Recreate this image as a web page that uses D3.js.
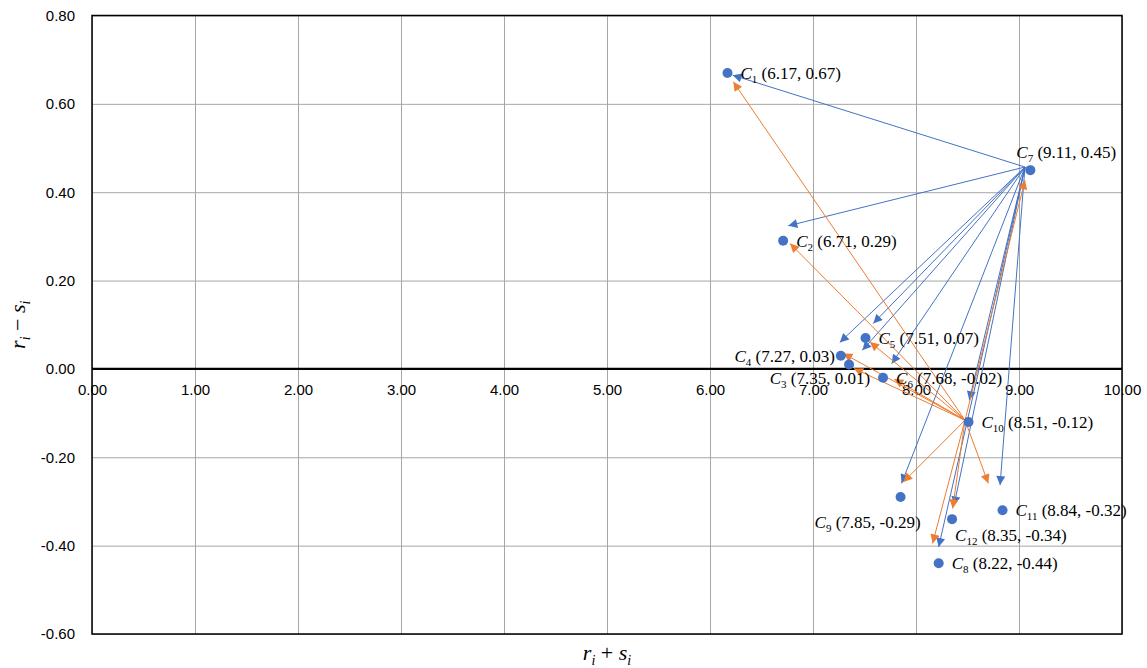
<!DOCTYPE html>
<html>
<head>
<meta charset="utf-8">
<script src="https://cdn.jsdelivr.net/npm/d3@7"></script>
<style>
  body { margin: 0; background: #fff; }
  svg { display: block; }
  .lbl { font-family: "Liberation Serif", "Times New Roman", serif; font-size: 17px; fill: #000; }
</style>
</head>
<body>
<svg id="chart"></svg>
<script>
// nodes: name index, r+s, r-s
const nodeIds = [1, 2, 3, 4, 5, 6, 7, 8, 9, 10, 11, 12];
const nodeX = [6.17, 6.71, 7.35, 7.27, 7.51, 7.68, 9.11, 8.22, 7.85, 8.51, 8.84, 8.35];
const nodeY = [0.67, 0.29, 0.01, 0.03, 0.07, -0.02, 0.45, -0.44, -0.29, -0.12, -0.32, -0.34];

// which side of the point each label sits on
const labelSide = ["right", "right", "belowleft", "left", "right", "right", "above", "right", "below", "right", "right", "belowright"];

// blue arrows leave C7, orange arrows leave C10 (tips, data units)
const blueStart = [9.058, 0.457];
const blueTipX = [6.22, 6.76, 7.26, 7.585, 7.479, 7.764, 8.517, 7.86, 8.816, 8.369, 8.22];
const blueTipY = [0.665, 0.324, 0.060, 0.103, 0.042, 0.012, -0.071, -0.259, -0.263, -0.309, -0.403];
const orangeStart = [8.476, -0.116];
const orangeTipX = [6.226, 6.777, 7.294, 7.553, 7.398, 7.789, 9.058, 7.877, 8.702, 8.356, 8.161];
const orangeTipY = [0.650, 0.284, 0.035, 0.061, 0.001, -0.023, 0.427, -0.256, -0.259, -0.316, -0.395];

const xTicks = [0, 1, 2, 3, 4, 5, 6, 7, 8, 9, 10];
const yTicks = [-0.6, -0.4, -0.2, 0, 0.2, 0.4, 0.6, 0.8];

const WIDTH = 1147;
const HEIGHT = 668;
const PLOT = { LEFT: 92, RIGHT: 1122, TOP: 15.5, BOTTOM: 634 };
const BLUE = "#4472C4";
const ORANGE = "#ED7D31";
const TICK_FONT = "'Liberation Sans', Arial, sans-serif";

// plain hyphen minus, like the original
const fmt = v => d3.format(".2f")(v).replace("\u2212", "-");

let svg = d3.select("#chart").attr("width", WIDTH).attr("height", HEIGHT);

let xScale = d3.scaleLinear().domain([0, 10]).range([PLOT.LEFT, PLOT.RIGHT]);
let yScale = d3.scaleLinear().domain([-0.6, 0.8]).range([PLOT.BOTTOM, PLOT.TOP]);

// arrow markers
let defs = svg.append("defs");
[["blueHead", BLUE], ["orangeHead", ORANGE]].forEach(function(m) {
  defs.append("marker")
    .attr("id", m[0])
    .attr("viewBox", "0 0 10 10")
    .attr("refX", 10).attr("refY", 5)
    .attr("markerWidth", 11).attr("markerHeight", 9)
    .attr("markerUnits", "userSpaceOnUse")
    .attr("orient", "auto")
    .append("path")
      .attr("d", "M0,0 L10,5 L0,10 Z")
      .attr("fill", m[1]);
});

// gridlines
svg.append("g")
  .attr("transform", `translate(0,${PLOT.BOTTOM})`)
  .call(d3.axisBottom(xScale).tickValues(xTicks).tickSize(-(PLOT.BOTTOM - PLOT.TOP)).tickFormat(""))
  .call(g => g.select(".domain").remove())
  .call(g => g.selectAll("line").attr("stroke", "#a6a6a6").attr("stroke-width", 1));

svg.append("g")
  .attr("transform", `translate(${PLOT.LEFT},0)`)
  .call(d3.axisLeft(yScale).tickValues(yTicks).tickSize(-(PLOT.RIGHT - PLOT.LEFT)).tickFormat(""))
  .call(g => g.select(".domain").remove())
  .call(g => g.selectAll("line").attr("stroke", "#a6a6a6").attr("stroke-width", 1));

// plot border
svg.append("rect")
  .attr("x", PLOT.LEFT).attr("y", PLOT.TOP)
  .attr("width", PLOT.RIGHT - PLOT.LEFT).attr("height", PLOT.BOTTOM - PLOT.TOP)
  .attr("fill", "none").attr("stroke", "#000").attr("stroke-width", 1.5);

// zero line
svg.append("line")
  .attr("x1", PLOT.LEFT).attr("x2", PLOT.RIGHT)
  .attr("y1", yScale(0)).attr("y2", yScale(0))
  .attr("stroke", "#000").attr("stroke-width", 2.2);

function styleTicks(g) {
  g.select(".domain").remove();
  g.attr("font-size", null).attr("font-family", null);
  g.selectAll("text")
    .style("font-family", TICK_FONT)
    .style("font-size", "15px")
    .style("fill", "#000");
}

// y tick labels
svg.append("g")
  .attr("transform", `translate(${PLOT.LEFT},0)`)
  .call(d3.axisLeft(yScale).tickValues(yTicks).tickSize(0).tickPadding(17).tickFormat(fmt))
  .call(styleTicks);

// x tick labels, sitting under the zero line
svg.append("g")
  .attr("transform", `translate(0,${yScale(0)})`)
  .call(d3.axisBottom(xScale).tickValues(xTicks).tickSize(0).tickPadding(15).tickFormat(fmt))
  .call(styleTicks);

// arrows
function drawArrows(start, tipX, tipY, color, marker) {
  svg.append("g")
    .selectAll("line")
    .data(tipX.map((x, i) => [x, tipY[i]]))
    .enter()
    .append("line")
      .attr("x1", xScale(start[0]))
      .attr("y1", yScale(start[1]))
      .attr("x2", d => xScale(d[0]))
      .attr("y2", d => yScale(d[1]))
      .attr("stroke", color)
      .attr("stroke-width", 1)
      .attr("marker-end", `url(#${marker})`);
}
drawArrows(blueStart, blueTipX, blueTipY, BLUE, "blueHead");
drawArrows(orangeStart, orangeTipX, orangeTipY, ORANGE, "orangeHead");

// points
let nodes = nodeIds.map((id, i) => ({ id: id, x: nodeX[i], y: nodeY[i], side: labelSide[i] }));

svg.append("g")
  .selectAll("circle")
  .data(nodes)
  .enter()
  .append("circle")
    .attr("r", 5)
    .attr("cx", d => xScale(d.x))
    .attr("cy", d => yScale(d.y))
    .attr("fill", BLUE);

// labels
function labelPos(d) {
  let px = xScale(d.x), py = yScale(d.y);
  switch (d.side) {
    case "left": return [px - 6, py + 6, "end"];
    case "belowleft": return [px + 21, py + 19, "end"];
    case "above": return [px - 14, py - 12, "start"];
    case "below": return [px - 86, py + 31, "start"];
    case "belowright": return [px + 3, py + 22, "start"];
    default: return [px + 13, py + 6, "start"];
  }
}

let labels = svg.append("g")
  .selectAll("text")
  .data(nodes)
  .enter()
  .append("text")
    .attr("class", "lbl")
    .attr("x", d => labelPos(d)[0])
    .attr("y", d => labelPos(d)[1])
    .attr("text-anchor", d => labelPos(d)[2]);

labels.append("tspan").attr("font-style", "italic").text("C");
labels.append("tspan").attr("font-size", "11px").attr("dy", 4).text(d => d.id);
labels.append("tspan").attr("dy", -4).text(d => ` (${fmt(d.x)}, ${fmt(d.y)})`);

// axis titles
let xTitle = svg.append("text")
  .attr("class", "lbl")
  .attr("x", (PLOT.LEFT + PLOT.RIGHT) / 2)
  .attr("y", 660)
  .attr("text-anchor", "middle")
  .style("font-size", "22px");
xTitle.append("tspan").attr("font-style", "italic").text("r");
xTitle.append("tspan").attr("font-style", "italic").attr("font-size", "14px").attr("dy", 5).text("i");
xTitle.append("tspan").attr("dy", -5).text(" + ");
xTitle.append("tspan").attr("font-style", "italic").text("s");
xTitle.append("tspan").attr("font-style", "italic").attr("font-size", "14px").attr("dy", 5).text("i");

let yTitle = svg.append("text")
  .attr("class", "lbl")
  .attr("transform", `translate(25,${(PLOT.TOP + PLOT.BOTTOM) / 2}) rotate(-90)`)
  .attr("text-anchor", "middle")
  .style("font-size", "22px");
yTitle.append("tspan").attr("font-style", "italic").text("r");
yTitle.append("tspan").attr("font-style", "italic").attr("font-size", "14px").attr("dy", 5).text("i");
yTitle.append("tspan").attr("dy", -5).text(" \u2212 ");
yTitle.append("tspan").attr("font-style", "italic").text("s");
yTitle.append("tspan").attr("font-style", "italic").attr("font-size", "14px").attr("dy", 5).text("i");
</script>
</body>
</html>
